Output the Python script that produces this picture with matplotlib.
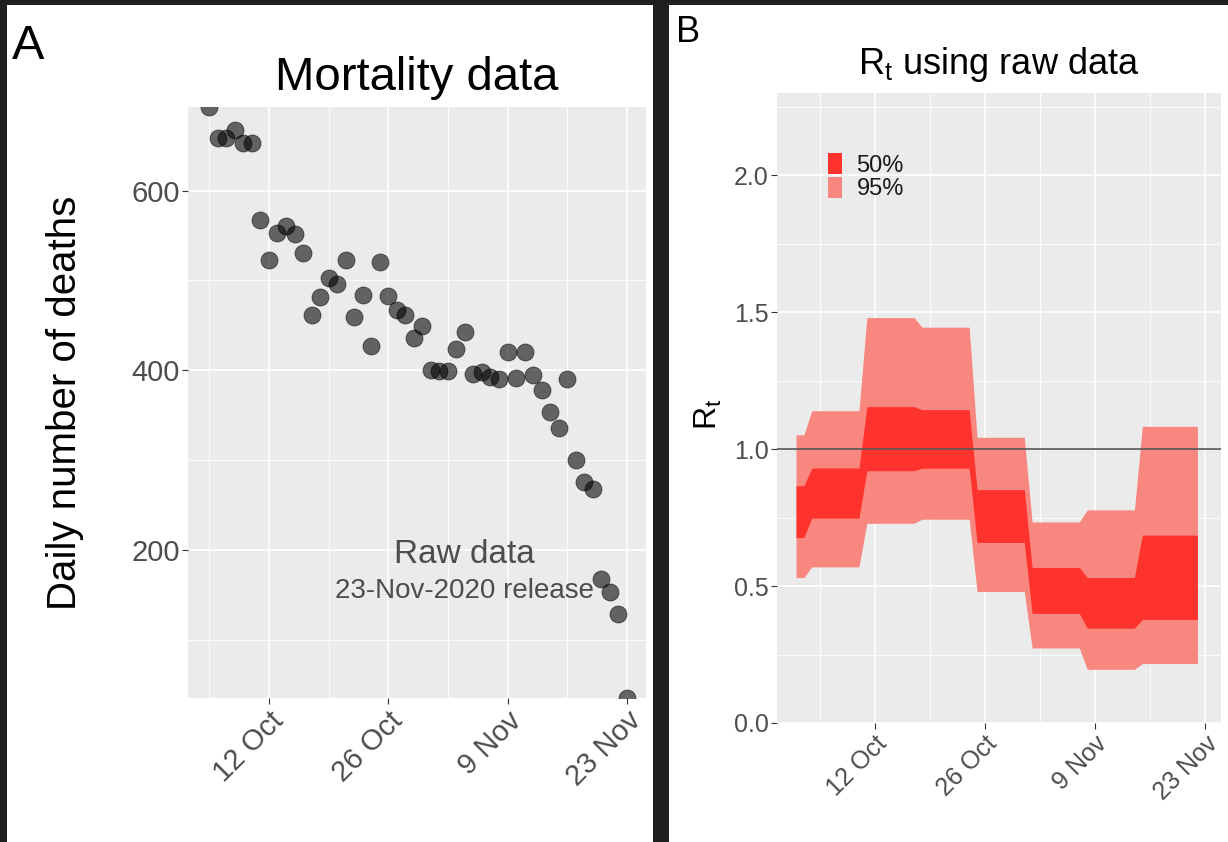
import matplotlib
matplotlib.use("Agg")
import matplotlib.pyplot as plt
from matplotlib.patches import Rectangle, Patch
from matplotlib.ticker import MultipleLocator, FormatStrFormatter
import pandas as pd

plt.rcParams['font.family'] = ['Liberation Sans', 'DejaVu Sans']
plt.rcParams['mathtext.fontset'] = 'custom'
plt.rcParams['mathtext.rm'] = 'Liberation Sans'
plt.rcParams['mathtext.it'] = 'Liberation Sans:italic'

# panel A: daily deaths, raw data (23-Nov-2020 release)
death_dates = pd.date_range('2020-10-05', '2020-11-23', freq='D')
deaths = [693, 659, 659, 667, 653, 653, 567, 523, 553, 560,
          552, 530, 461, 481, 503, 496, 523, 459, 484, 427,
          520, 483, 467, 461, 436, 449, 400, 399, 399, 424,
          443, 396, 398, 392, 390, 420, 391, 420, 395, 378,
          353, 336, 390, 300, 275, 268, 167, 153, 128, 35]

# panel B: weekly Rt credible intervals
seg_start = pd.to_datetime(['2020-10-02', '2020-10-04', '2020-10-11', '2020-10-18',
                            '2020-10-25', '2020-11-01', '2020-11-08', '2020-11-15'])
seg_end = pd.to_datetime(['2020-10-03', '2020-10-10', '2020-10-17', '2020-10-24',
                          '2020-10-31', '2020-11-07', '2020-11-14', '2020-11-22'])
lo95 = [0.531, 0.570, 0.729, 0.744, 0.480, 0.274, 0.196, 0.217]
hi95 = [1.052, 1.140, 1.480, 1.445, 1.043, 0.734, 0.778, 1.083]
lo50 = [0.677, 0.748, 0.921, 0.930, 0.659, 0.400, 0.346, 0.378]
hi50 = [0.866, 0.931, 1.155, 1.144, 0.852, 0.568, 0.531, 0.686]

major_dates = pd.to_datetime(['2020-10-12', '2020-10-26', '2020-11-09', '2020-11-23'])
minor_dates = pd.to_datetime(['2020-10-05', '2020-10-19', '2020-11-02', '2020-11-16'])
date_labels = ['12 Oct', '26 Oct', '9 Nov', '23 Nov']

W, H = 1228, 842
fig = plt.figure(figsize=(W / 100, H / 100), dpi=100, facecolor='#1f1f1f')
# white panel backgrounds, kept behind the axes
fig.patches.append(Rectangle((7 / W, 0), (653 - 7) / W, 1 - 5 / H,
                             transform=fig.transFigure, facecolor='white', zorder=-10))
fig.patches.append(Rectangle((669 / W, 0), (W - 669) / W, 1 - 5 / H,
                             transform=fig.transFigure, facecolor='white', zorder=-10))


def style_axes(ax, fs_ticks):
    ax.set_facecolor('#EBEBEB')
    for s in ax.spines.values():
        s.set_visible(False)
    ax.grid(True, which='major', color='white', lw=1.2)
    ax.grid(True, which='minor', color='white', lw=0.6)
    ax.set_axisbelow(True)
    ax.tick_params(which='major', length=4, width=0.8, color='#333333',
                   labelcolor='#4D4D4D', labelsize=fs_ticks, pad=2)
    ax.tick_params(which='minor', length=0)


def date_axis(ax, fs):
    ax.set_xticks(major_dates)
    ax.set_xticks(minor_dates, minor=True)
    ax.set_xticklabels(date_labels, rotation=45, ha='right', va='top',
                       rotation_mode='anchor', fontsize=fs)


# ---- panel A ----
ax1 = fig.add_axes([188 / W, 1 - 698 / H, (646 - 188) / W, (698 - 107) / H])
style_axes(ax1, 21)
ax1.scatter(death_dates, deaths, s=150, color='black', alpha=0.58,
            edgecolors='black', linewidths=0.6, zorder=3)
ax1.set_ylim(35, 693)
ax1.set_xlim(pd.Timestamp('2020-10-02 12:00'), pd.Timestamp('2020-11-25 06:00'))
ax1.yaxis.set_major_locator(MultipleLocator(200))
ax1.yaxis.set_minor_locator(MultipleLocator(100))
date_axis(ax1, 21)
ax1.set_title('Mortality data', fontsize=34, pad=12)
ax1.set_ylabel('Daily number of deaths', fontsize=29)
ax1.yaxis.set_label_coords(-0.227, 0.5)
ax1.text(0.603, 0.228, 'Raw data', transform=ax1.transAxes, ha='center',
         va='baseline', fontsize=24, color='#4D4D4D')
ax1.text(0.603, 0.169, '23-Nov-2020 release', transform=ax1.transAxes, ha='center',
         va='baseline', fontsize=20, color='#4D4D4D')
fig.text(12 / W, 1 - 59 / H, 'A', fontsize=35, va='baseline', color='black')

# ---- panel B ----
ax2 = fig.add_axes([777 / W, 1 - 723 / H, (1221 - 777) / W, (723 - 93) / H])
style_axes(ax2, 18)

xs, y95l, y95h, y50l, y50h = [], [], [], [], []
for i in range(len(seg_start)):
    xs += [seg_start[i], seg_end[i]]
    y95l += [lo95[i], lo95[i]]
    y95h += [hi95[i], hi95[i]]
    y50l += [lo50[i], lo50[i]]
    y50h += [hi50[i], hi50[i]]

c95, c50 = '#F8877F', '#FF332E'
ax2.fill_between(xs, y95l, y95h, color=c95, lw=0, zorder=2)
ax2.fill_between(xs, y50l, y50h, color=c50, lw=0, zorder=3)
ax2.axhline(1.0, color='#555555', lw=1.2, zorder=4)
ax2.set_ylim(0, 2.3)
ax2.set_xlim(pd.Timestamp('2020-09-29 14:00'), pd.Timestamp('2020-11-25 00:00'))
ax2.yaxis.set_major_locator(MultipleLocator(0.5))
ax2.yaxis.set_minor_locator(MultipleLocator(0.25))
ax2.yaxis.set_major_formatter(FormatStrFormatter('%.1f'))
date_axis(ax2, 18)
ax2.set_title(r'$\mathregular{R_t}$ using raw data', fontsize=26, pad=14)
ax2.set_ylabel(r'$\mathregular{R_t}$', fontsize=23)
ax2.yaxis.set_label_coords(-0.119, 0.49)
ax2.legend(handles=[Patch(facecolor=c50, edgecolor='none', label='50%'),
                    Patch(facecolor=c95, edgecolor='none', label='95%')],
           loc='upper left', bbox_to_anchor=(0.115, 0.905), frameon=False,
           fontsize=17, handlelength=0.6, handleheight=1.0, labelspacing=0,
           handletextpad=0.6, borderpad=0, borderaxespad=0, labelcolor='#1a1a1a')
fig.text(676 / W, 1 - 42 / H, 'B', fontsize=26, va='baseline', color='black')

fig.savefig('out.png', dpi=100, facecolor=fig.get_facecolor())
